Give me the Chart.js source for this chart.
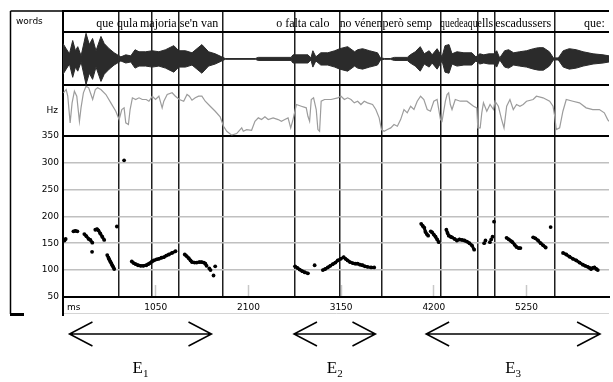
<!DOCTYPE html>
<html>
<head>
<meta charset="utf-8">
<title>Corba melòdica</title>
<script src="https://cdn.jsdelivr.net/npm/chart.js"></script>
<style>
  html, body { margin: 0; padding: 0; background: #fff; }
</style>
</head>
<body>
<canvas id="grafica" width="613" height="382"></canvas>
<script>
// eixos
var eixMs = [1050, 2100, 3150, 4200, 5250];
var eixHz = [50, 100, 150, 200, 250, 300, 350];
var fronteres = [636, 1007, 1311, 1806, 2628, 3134, 3607, 4282, 4698, 4889, 5565];

// paraules (text, inici i final en ms)
var paraules = ["que", "qula", "majoria", "se'n van", "o falta calo", "no vénen", "però semp", "quedeaque", "lls", "escadussers", "que:"];
var paraulaInici = [377, 613, 872, 1323, 2414, 3134, 3618, 4271, 4745, 4895, 5902];
var paraulaFi = [580, 861, 1311, 1795, 3134, 3618, 4271, 4745, 4895, 5560, 6172];

// oscil·lograma (envolupant)
var onaMs = [0, 36, 73, 110, 141, 167, 205, 261, 298, 335, 374, 430, 467, 523, 579, 617, 655, 711, 768, 816, 861, 936, 1011, 1086, 1161, 1255, 1311, 1387, 1461, 1573, 1649, 1724, 1798, 1837,
  2178, 2211, 2583, 2605, 2774, 2808, 2830, 2864, 2920, 2999, 3078, 3134, 3224, 3303, 3337, 3393, 3472, 3562, 3596, 3641, 3708, 3753, 3899, 3933, 3990, 4046, 4091, 4147, 4181, 4237, 4293,
  4327, 4372, 4406, 4462, 4541, 4631, 4676, 4721, 4766, 4822, 4878, 4912, 4946, 5002, 5047, 5104, 5171, 5250, 5329, 5385, 5441, 5509, 5554, 5610, 5666, 5734, 5813, 5891, 6004, 6117, 6184];
var onaAmp = [15, 10, 5, 18, 8, 12, 3, 25, 14, 20, 8, 22, 15, 10, 6, 4, 2, 4, 3, 9, 7, 7, 8, 7, 9, 13, 8, 8, 6, 14, 7, 5, 2, 0.4,
  0.4, 1.5, 1.5, 4, 4, 1, 8, 2, 6, 6, 8, 10, 12, 7, 9, 10, 8, 6, 1, 0.4, 0.4, 1.5, 1.5, 4, 7, 12, 5, 8, 4, 10, 2,
  13, 14, 5, 7, 6, 6, 2, 5, 4, 5, 5, 8, 1, 8, 9, 6, 7, 8, 10, 11, 11, 7, 1, 1, 8, 10, 9, 7, 5, 4, 3];

// corba grisa
var corbaMs = [5, 36, 54, 81, 103, 129, 156, 186, 204, 231, 261, 291, 317, 336, 366, 392, 429, 486, 542, 598, 636, 666, 692, 711, 741, 760, 786, 823, 861, 898, 943, 973, 1011, 1048, 1086, 1123, 1142, 1180, 1236, 1273, 1318, 1367, 1405, 1431, 1461, 1498, 1536, 1573, 1611, 1667, 1724, 1780, 1818, 1855, 1911, 1967, 2024, 2042, 2080, 2136,
  2174, 2212, 2249, 2287, 2324, 2380, 2437, 2474, 2512, 2549, 2579, 2605, 2643, 2699, 2755, 2774, 2793, 2812, 2838, 2868, 2887, 2906, 2924, 2962, 3037, 3112, 3149, 3187, 3224, 3262, 3299, 3337, 3374, 3412, 3449, 3506, 3543, 3581, 3607, 3637, 3674, 3712, 3749, 3787, 3824, 3862, 3899, 3937, 3975,
  4012, 4050, 4087, 4125, 4162, 4200, 4237, 4275, 4293, 4331, 4350, 4368, 4387, 4406, 4443, 4500, 4575, 4650, 4687, 4698, 4725, 4743, 4762, 4800, 4837, 4875, 4893, 4931, 4968, 4995, 5025, 5062, 5100, 5137, 5175, 5212, 5250, 5325, 5362, 5437, 5512, 5550, 5569, 5587, 5625, 5662, 5700, 5775, 5850, 5925, 6000, 6075, 6131, 6169, 6184];
var corbaVal = [42.7, 46, 39.3, 12.7, 32.7, 44.3, 39.3, 14.3, 27.7, 42.7, 49.3, 47.7, 41, 36, 46, 47.7, 46, 41, 32.7, 24.3, 16, 26, 27.7, 12.7, 11, 26, 37.7, 36, 37.7, 36, 36, 34.3, 39.3, 36, 39.3, 27.7, 34.3, 41, 42.7, 39.3, 36, 34.3, 41, 39.3, 35.3, 37.7, 39.3, 39.3, 34.3, 29.3, 24.3, 18.7, 9.3, 4.3, 0.5, 2, 7.7, 4.3, 6, 5.3,
  14.3, 17.7, 16, 18.7, 16, 17.7, 16, 14.3, 16, 17.7, 7.7, 16, 31, 29.3, 27.7, 19.3, 14.3, 36, 37.7, 26, 6, 4.3, 34.3, 36, 36, 37.7, 39.3, 36, 37.7, 36, 32.7, 34.3, 31, 34.3, 32.7, 31, 26, 17.7, 6, 4.3, 6, 7.7, 11, 9.3, 16, 26, 22.7, 29.3, 26,
  34.3, 39.3, 36, 26, 24.3, 34.3, 36, 16, 14.3, 34.3, 41, 42.7, 31, 26, 36, 34.3, 34.3, 29.3, 27.7, 7.7, 7.7, 22.7, 32.7, 24.3, 31, 26, 34.3, 29.3, 16, 7.7, 29.3, 36, 26, 31, 29.3, 31, 34.3, 36, 39.3, 37.7, 34.3, 29.3, 19.3, 6, 7.7, 24.3, 36, 34.3, 32.7, 27.7, 26, 26, 22.7, 16, 14.3];

// F0 (Hz); null separa trams
var toMs = [17, 30, null, 118, 140, 163, null, 242, 265, 290, 310, 332, null, 329, null, 366, 385, 400, 422, 445, 467, null,
  501, 515, 523, 535, 546, 558, 568, 580, null, 610, null, 692, null,
  779, 800, 824, 850, 880, 910, 943, 965, 985, 1008, 1030, 1060, 1086, 1115, 1142, 1170, 1199, 1235, 1274, null,
  1379, 1400, 1424, 1445, 1461, 1490, 1514, 1545, 1570, 1595, 1612, 1626, null, 1657, null, 1671, null, 1724, null, 1705, null,
  2628, 2655, 2681, 2710, 2737, 2774, null, 2850, null,
  2943, 2970, 2999, 3027, 3055, 3085, 3112, 3145, 3179, 3200, 3224, 3250, 3281, 3310, 3337, 3365, 3393, 3420, 3449, 3490, 3525, null,
  4057, 4075, 4091, 4105, 4120, 4136, null, 4165, 4181, 4200, 4219, 4238, 4256, null,
  4342, 4355, 4369, 4390, 4406, 4435, 4462, 4490, 4519, 4547, 4575, 4603, 4631, 4657, null,
  4770, null, 4785, null, 4835, null, 4850, null, 4865, null, 4882, null,
  5024, 5050, 5075, 5091, 5115, 5136, 5160, 5181, null,
  5325, 5350, 5381, 5410, 5438, 5467, null, 5523, null,
  5663, 5700, 5737, 5775, 5813, 5850, 5888, 5915, 5944, 5965, 5981, 6000, 6019, 6040, 6057];
var toHz = [155, 158, null, 172, 173, 172, null, 167, 163, 158, 156, 151, null, 134, null, 175, 176, 174, 168, 162, 156, null,
  128, 123, 120, 116, 113, 109, 106, 102, null, 181, null, 304, null,
  116, 113, 111, 109, 108, 108, 109, 111, 113, 116, 118, 120, 121, 123, 124, 127, 129, 132, 135, null,
  129, 126, 122, 118, 115, 114, 114, 115, 115, 114, 112, 108, null, 103, null, 100, null, 107, null, 90, null,
  107, 104, 101, 98, 96, 94, null, 109, null,
  100, 102, 105, 108, 111, 114, 118, 121, 124, 121, 118, 115, 113, 112, 112, 110, 109, 107, 106, 105, 105, null,
  186, 182, 179, 171, 167, 164, null, 172, 170, 166, 162, 157, 152, null,
  175, 169, 164, 162, 161, 158, 155, 157, 156, 155, 153, 150, 146, 138, null,
  150, null, 155, null, 152, null, 157, null, 162, null, 190, null,
  160, 157, 154, 152, 147, 143, 141, 141, null,
  161, 159, 155, 150, 146, 142, null, 180, null,
  132, 129, 125, 121, 118, 114, 110, 108, 106, 104, 102, 104, 105, 102, 100];

// fletxes dels enunciats
var enunciats = ["E1", "E2", "E3"];
var enunciatInici = [73, 2616, 4113];
var enunciatFi = [1682, 3539, 6083];

function punts(xs, ys) {
  return xs.map(function (x, i) { return x === null ? { x: null, y: null } : { x: x, y: ys[i] }; });
}

var lletraEixos = { family: 'DejaVu Sans', size: 9 };
var transparent = 'rgba(0,0,0,0)';

var marcPlugin = {
  id: 'marc',
  afterDraw: function (chart) {
    var c = chart.ctx, a = chart.chartArea, sx = chart.scales.x, sp = chart.scales.yParaules;
    c.save();
    c.strokeStyle = '#000';
    c.lineWidth = 1.5;
    c.beginPath();
    c.moveTo(10.5, a.top); c.lineTo(a.left, a.top);
    c.moveTo(10.5, a.top); c.lineTo(10.5, 314);
    c.stroke();
    c.lineWidth = 2;
    c.beginPath(); c.moveTo(a.left, a.bottom); c.lineTo(a.left, 316); c.stroke();
    c.fillStyle = '#000';
    c.fillRect(10, 313, 14, 3);
    c.strokeStyle = '#d4d4d4'; c.lineWidth = 1;
    c.beginPath(); c.moveTo(a.left + 1, 313.5); c.lineTo(a.right, 313.5); c.stroke();

    // unitat de l'eix x
    c.font = '9px "DejaVu Sans"';
    c.textAlign = 'left'; c.textBaseline = 'middle';
    c.fillText('ms', a.left + 4, a.bottom + 11);

    // paraules
    c.font = '12px "Liberation Serif"';
    c.textBaseline = 'alphabetic';
    var yp = sp.getPixelForValue(0.5) + 5;
    paraules.forEach(function (p, i) {
      var x0 = sx.getPixelForValue(paraulaInici[i]);
      var x1 = sx.getPixelForValue(paraulaFi[i]);
      c.fillText(p, x0, yp, x1 - x0);
    });

    // fletxes i etiquetes
    var yf = a.bottom + 37;
    c.strokeStyle = '#000'; c.lineWidth = 1.5;
    enunciats.forEach(function (e, i) {
      var x0 = sx.getPixelForValue(enunciatInici[i]);
      var x1 = sx.getPixelForValue(enunciatFi[i]);
      c.beginPath();
      c.moveTo(x0, yf); c.lineTo(x1, yf);
      c.moveTo(x0 + 23, yf - 12); c.lineTo(x0, yf); c.lineTo(x0 + 23, yf + 12);
      c.moveTo(x1 - 23, yf - 12); c.lineTo(x1, yf); c.lineTo(x1 - 23, yf + 12);
      c.stroke();
      c.font = '17px "Liberation Serif"';
      var wE = c.measureText(e[0]).width;
      c.font = '11px "Liberation Serif"';
      var wS = c.measureText(e.slice(1)).width;
      var xm = (x0 + x1) / 2 - (wE + wS) / 2;
      c.textAlign = 'left';
      c.font = '17px "Liberation Serif"';
      c.fillText(e[0], xm, a.bottom + 76);
      c.font = '11px "Liberation Serif"';
      c.fillText(e.slice(1), xm + wE, a.bottom + 80);
    });
    c.restore();
  }
};

function ampleEix(s) { s.width = 47; }

new Chart(document.getElementById('grafica'), {
  type: 'line',
  data: {
    datasets: [
      {
        label: 'ona+', data: punts(onaMs, onaAmp), yAxisID: 'yOna',
        borderColor: '#2b2b2b', backgroundColor: '#2b2b2b', borderWidth: 1, pointRadius: 0, fill: '+1'
      },
      {
        label: 'ona-', data: punts(onaMs, onaAmp.map(function (v) { return -v; })), yAxisID: 'yOna',
        borderColor: '#2b2b2b', borderWidth: 1, pointRadius: 0, fill: false
      },
      {
        label: 'corba', data: punts(corbaMs, corbaVal), yAxisID: 'yCorba',
        borderColor: '#9c9c9c', borderWidth: 1.2, pointRadius: 0, fill: false
      },
      {
        label: 'F0', data: punts(toMs, toHz), yAxisID: 'yTo',
        borderColor: '#000', backgroundColor: '#000', borderWidth: 3, pointRadius: 1.9,
        pointBorderWidth: 0, spanGaps: false, fill: false
      }
    ]
  },
  options: {
    responsive: false,
    animation: false,
    events: [],
    layout: { padding: { left: 16, right: 0, top: 11, bottom: 67 } },
    elements: { line: { tension: 0 } },
    plugins: { legend: { display: false }, tooltip: { enabled: false } },
    scales: {
      x: {
        type: 'linear', position: 'bottom', min: 0, max: 6184,
        afterBuildTicks: function (s) { s.ticks = eixMs.map(function (v) { return { value: v }; }); },
        afterFit: function (s) { s.height = 18; },
        grid: { drawOnChartArea: false, drawTicks: true, tickLength: -12, tickColor: '#c8c8c8', tickWidth: 1.5 },
        border: { color: '#000', width: 2 },
        ticks: { padding: 17, font: lletraEixos, color: '#000', maxRotation: 0, autoSkip: false, callback: function (v) { return String(v); } }
      },
      xFront: {
        type: 'linear', position: 'top', min: 0, max: 6184,
        afterBuildTicks: function (s) { s.ticks = fronteres.map(function (v) { return { value: v }; }); },
        afterFit: function (s) { s.height = 0; },
        grid: { color: '#1e1e1e', lineWidth: 1.5, drawTicks: false },
        border: { display: false },
        ticks: { display: false }
      },
      yParaules: {
        type: 'linear', position: 'left', stack: 'panells', stackWeight: 21.3, weight: 4, min: 0, max: 1,
        afterBuildTicks: function (s) { s.ticks = [{ value: 0 }, { value: 0.5 }, { value: 1 }]; },
        afterFit: ampleEix,
        grid: { drawTicks: false, lineWidth: 2, color: function (ctx) { return ctx.tick && ctx.tick.value === 0.5 ? transparent : '#000'; } },
        border: { color: '#000', width: 2 },
        ticks: { crossAlign: 'far', autoSkip: false, font: lletraEixos, color: '#000', callback: function (v) { return v === 0.5 ? 'words' : ''; } }
      },
      yOna: {
        type: 'linear', position: 'left', stack: 'panells', stackWeight: 53, weight: 3, min: -26, max: 26,
        afterBuildTicks: function (s) { s.ticks = [{ value: -26 }, { value: 26 }]; },
        afterFit: ampleEix,
        grid: { drawTicks: false, lineWidth: 2, color: '#000' },
        border: { color: '#000', width: 2 },
        ticks: { display: false }
      },
      yCorba: {
        type: 'linear', position: 'left', stack: 'panells', stackWeight: 50, weight: 2, min: 0, max: 50,
        afterBuildTicks: function (s) { s.ticks = [{ value: 0 }, { value: 25 }, { value: 50 }]; },
        afterFit: ampleEix,
        grid: { drawTicks: false, lineWidth: 2, color: function (ctx) { return ctx.tick && ctx.tick.value === 25 ? transparent : '#000'; } },
        border: { color: '#000', width: 2 },
        ticks: { padding: 5, autoSkip: false, font: lletraEixos, color: '#000', callback: function (v) { return v === 25 ? 'Hz' : ''; } }
      },
      yTo: {
        type: 'linear', position: 'left', stack: 'panells', stackWeight: 161, weight: 1, min: 50, max: 350,
        afterBuildTicks: function (s) { s.ticks = eixHz.map(function (v) { return { value: v }; }); },
        afterFit: ampleEix,
        grid: {
          drawTicks: false,
          lineWidth: function (ctx) { return ctx.tick && (ctx.tick.value === 50 || ctx.tick.value === 350) ? 2 : 1.5; },
          color: function (ctx) { return ctx.tick && (ctx.tick.value === 50 || ctx.tick.value === 350) ? '#000' : '#c0c0c0'; }
        },
        border: { color: '#000', width: 2 },
        ticks: { padding: 4, autoSkip: false, font: lletraEixos, color: '#000' }
      }
    }
  },
  plugins: [marcPlugin]
});
</script>
</body>
</html>
